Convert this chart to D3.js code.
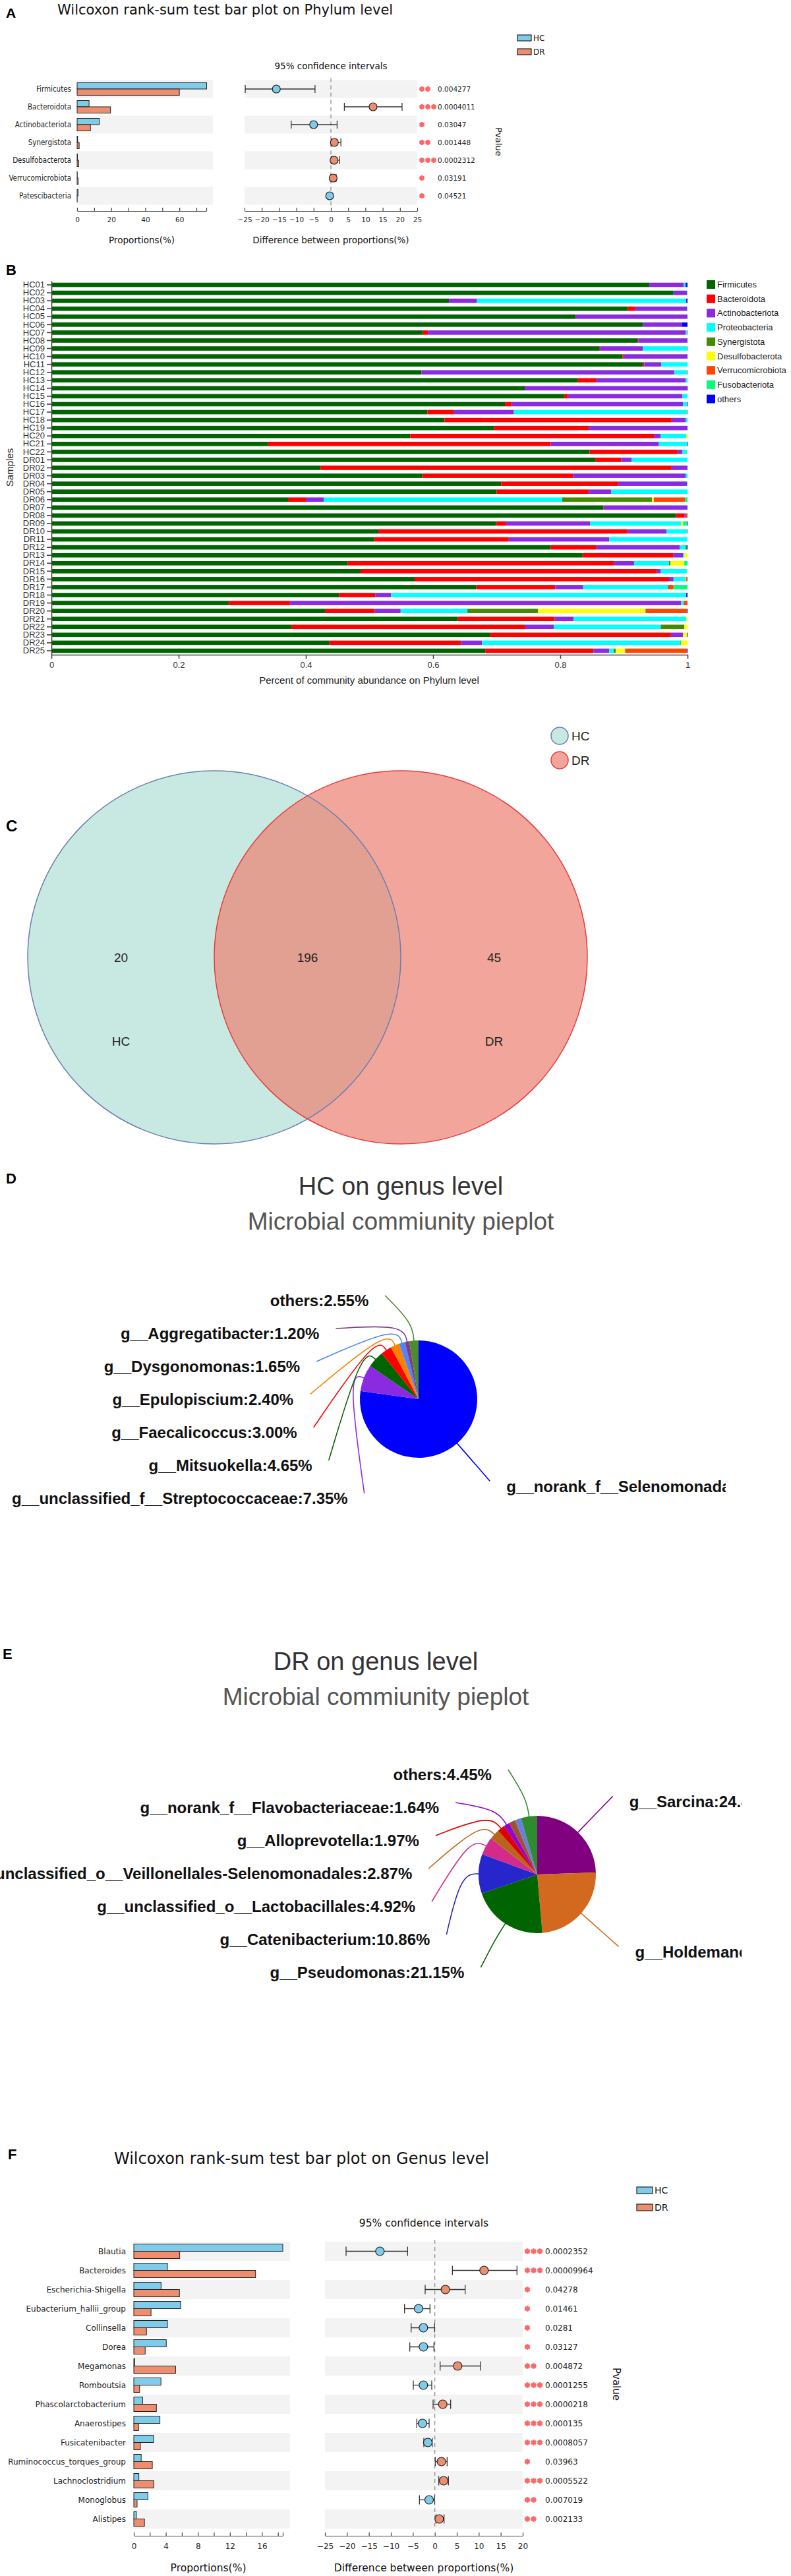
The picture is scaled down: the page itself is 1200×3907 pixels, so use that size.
<!DOCTYPE html>
<html>
<head>
<meta charset="utf-8">
<script src="https://cdn.jsdelivr.net/npm/d3@7"></script>
<style>
  body { margin: 0; background: #fff; }
  svg { display: block; }
</style>
</head>
<body>
<div id="fig"></div>
<script>
/** Colours shared by the two Wilcoxon panels */
const colorHC = "#7fcbea";
const colorDR = "#ef8d6f";

/** Panel A data: phylum level */
const phylaA = ["Firmicutes", "Bacteroidota", "Actinobacteriota", "Synergistota", "Desulfobacterota", "Verrucomicrobiota", "Patescibacteria"];
const phylaA_HC = [76.0, 7.0, 13.0, 0.3, 0.2, 0.1, 0.5];
const phylaA_DR = [60.0, 19.6, 7.8, 1.2, 0.9, 0.6, 0.05];
const phylaA_diff = [-15.8, 12.2, -5.0, 1.0, 0.9, 0.65, -0.35];
const phylaA_low = [-24.8, 3.9, -11.5, 0.2, 0.1, 0.0, -0.7];
const phylaA_high = [-4.6, 20.6, 1.8, 2.9, 2.5, 1.5, 0.0];
const phylaA_p = ["0.004277", "0.0004011", "0.03047", "0.001448", "0.0002312", "0.03191", "0.04521"];

/** Panel B data: community barplot, one array per phylum */
const samples = ["HC01", "HC02", "HC03", "HC04", "HC05", "HC06", "HC07", "HC08", "HC09", "HC10", "HC11",
  "HC12", "HC13", "HC14", "HC15", "HC16", "HC17", "HC18", "HC19", "HC20", "HC21", "HC22",
  "DR01", "DR02", "DR03", "DR04", "DR05", "DR06", "DR07", "DR08", "DR09", "DR10", "DR11", "DR12",
  "DR13", "DR14", "DR15", "DR16", "DR17", "DR18", "DR19", "DR20", "DR21", "DR22", "DR23", "DR24", "DR25"];
const phylaB = ["Firmicutes", "Bacteroidota", "Actinobacteriota", "Proteobacteria", "Synergistota",
  "Desulfobacterota", "Verrucomicrobiota", "Fusobacteriota", "others"];
const phylaB_colors = ["#006400", "#ff0000", "#8a2be2", "#00ffff", "#458b00", "#ffff00", "#ff4500", "#00ff7f", "#0000ff"];
const firmicutes = [.940, .978, .625, .906, .824, .930, .584, .922, .862, .898, .930, .582, .827, .744, .806, .713, .591, .618, .696, .564, .340, .846,
  .855, .423, .583, .707, .700, .372, .868, .982, .699, .514, .508, .785, .835, .466, .486, .571, .668, .452, .279, .430, .639, .377, .690, .437, .682];
const bacteroidota = [0, 0, 0, .012, 0, 0, .008, .001, .001, .002, .002, 0, .029, 0, .006, .011, .042, .357, .149, .384, .445, .139,
  .041, .552, .237, .184, .145, .028, 0, .013, .015, .392, .211, .071, .143, .418, .466, .400, .124, .057, .096, .078, .152, .368, .284, .207, .170];
const actinobacteriota = [.054, .021, .044, .081, .176, .061, .405, .077, .067, .100, .027, .397, .141, .255, .180, .269, .094, .022, .155, .010, .170, .007,
  .016, .025, .177, .108, .035, .028, .132, .002, .133, .061, .158, .132, .015, .032, .006, .007, .044, .025, .615, .041, .030, .045, .019, .033, .025];
const proteobacteria = [.003, .001, .329, .001, 0, 0, .002, 0, .069, 0, .041, .020, .002, 0, .008, .006, .272, .003, 0, .040, .044, .007,
  .088, 0, .003, .001, .120, .375, 0, 0, .143, .032, .123, .009, .002, .055, .041, .019, .133, .464, .004, .105, .177, .168, 0, .312, .007];
const synergistota = [0, 0, 0, 0, 0, 0, 0, 0, 0, 0, 0, 0, 0, 0, 0, 0, 0, 0, 0, 0, 0, 0,
  0, 0, 0, 0, 0, .141, 0, 0, 0, 0, 0, .002, 0, .002, 0, 0, 0, 0, 0, .111, 0, .037, 0, .001, .003];
const desulfobacterota = [0, 0, 0, 0, 0, 0, 0, 0, 0, 0, 0, 0, 0, 0, 0, 0, 0, 0, 0, .002, 0, .001,
  0, 0, 0, 0, 0, .003, 0, 0, .003, 0, 0, 0, .005, .022, .001, .001, 0, 0, 0, .169, .002, .005, .006, .010, .015];
const verrucomicrobiota = [0, 0, 0, 0, 0, 0, .001, 0, .001, 0, 0, .001, 0, 0, 0, 0, .001, 0, 0, 0, 0, 0,
  0, 0, 0, 0, 0, .049, 0, .003, 0, .001, 0, 0, 0, 0, 0, .002, .009, 0, .006, .065, 0, 0, 0, 0, .097];
const fusobacteriota = [0, 0, 0, 0, 0, 0, 0, 0, 0, 0, 0, 0, .001, 0, 0, 0, 0, 0, 0, 0, 0, 0,
  0, 0, 0, 0, 0, .004, 0, 0, .006, 0, 0, 0, 0, .005, 0, 0, .022, 0, 0, 0, 0, 0, 0, 0, 0];
const othersB = [.003, 0, .002, 0, 0, .009, 0, 0, 0, 0, 0, 0, 0, .001, 0, .001, 0, 0, 0, 0, .001, 0,
  0, 0, 0, 0, 0, 0, 0, 0, .001, 0, 0, .001, 0, 0, 0, 0, 0, .002, 0, .001, 0, 0, .001, 0, .001];
const phylaB_values = [firmicutes, bacteroidota, actinobacteriota, proteobacteria, synergistota,
  desulfobacterota, verrucomicrobiota, fusobacteriota, othersB];
const bTicks = [0, 0.2, 0.4, 0.6, 0.8, 1];

/** Panel C data: Venn */
const vennGroups = ["HC", "DR"];
const vennOnly = [20, 45];
const vennShared = 196;

/** Panel D data: HC genus pie */
const pieHC_names = ["g__norank_f__Selenomonadaceae", "g__unclassified_f__Streptococcaceae", "g__Mitsuokella",
  "g__Faecalicoccus", "g__Epulopiscium", "g__Dysgonomonas", "g__Aggregatibacter", "others"];
const pieHC_values = [77.20, 7.35, 4.65, 3.00, 2.40, 1.65, 1.20, 2.55];
const pieHC_colors = ["#0000ff", "#8a2be2", "#006400", "#ff0000", "#ff7f00", "#4f86f7", "#7d3c8c", "#4c8c2b"];

/** Panel E data: DR genus pie (two thin slices carry no label) */
const pieDR_names = ["g__Sarcina", "g__Holdemanella", "g__Pseudomonas", "g__Catenibacterium",
  "g__unclassified_o__Lactobacillales", "g__unclassified_o__Veillonellales-Selenomonadales",
  "g__Alloprevotella", "g__norank_f__Flavobacteriaceae", "", "", "others"];
const pieDR_values = [24.45, 24.15, 21.15, 10.86, 4.92, 2.87, 1.97, 1.64, 1.80, 1.74, 4.45];
const pieDR_colors = ["#800080", "#d2691e", "#006400", "#2626cc", "#d42a8a", "#b8651b", "#dd0000",
  "#9400d3", "#a0522d", "#6a7fdb", "#2e8b2e"];

/** Panel F data: genus level */
const generaF = ["Blautia", "Bacteroides", "Escherichia-Shigella", "Eubacterium_hallii_group", "Collinsella",
  "Dorea", "Megamonas", "Romboutsia", "Phascolarctobacterium", "Anaerostipes", "Fusicatenibacter",
  "Ruminococcus_torques_group", "Lachnoclostridium", "Monoglobus", "Alistipes"];
const generaF_HC = [18.6, 4.2, 3.4, 5.85, 4.2, 4.05, 0.12, 3.39, 1.1, 3.26, 2.47, 0.92, 0.63, 1.77, 0.32];
const generaF_DR = [5.73, 15.2, 5.7, 2.15, 1.58, 1.42, 5.22, 0.73, 2.82, 0.6, 0.82, 2.31, 2.5, 0.41, 1.33];
const generaF_diff = [-12.5, 11.2, 2.4, -3.7, -2.6, -2.6, 5.2, -2.6, 1.8, -2.8, -1.6, 1.5, 2.0, -1.3, 1.0];
const generaF_low = [-20.2, 4.0, -2.2, -6.9, -5.4, -5.7, 1.2, -4.9, -0.4, -4.1, -2.5, 0.1, 0.9, -3.5, 0.25];
const generaF_high = [-6.2, 18.7, 6.9, -1.1, -0.06, -0.2, 10.4, -0.7, 3.6, -1.3, -0.6, 2.8, 3.1, -0.06, 2.1];
const generaF_p = ["0.0002352", "0.00009964", "0.04278", "0.01461", "0.0281", "0.03127", "0.004872",
  "0.0001255", "0.0000218", "0.000135", "0.0008057", "0.03963", "0.0005522", "0.007019", "0.002133"];

const dv = "'DejaVu Sans', sans-serif";
const ar = "'Liberation Sans', Arial, sans-serif";

const svg = d3.select("#fig").append("svg")
  .attr("width", 1200).attr("height", 3907)
  .style("background", "#fff");

const panelLetter = (t, x, y, size) =>
  svg.append("text").attr("x", x).attr("y", y).text(t)
    .attr("font-family", ar).attr("font-weight", "bold").attr("font-size", size).attr("fill", "#000");

/** Wilcoxon bar plot with confidence intervals (A and F) */
const drawWilcoxon = (c) => {
  const g = svg.append("g");
  const n = c.names.length;
  const rowY = (i) => c.top + c.pitch * (i + 0.5);
  const bottom = c.top + c.pitch * n;
  const xb = d3.scaleLinear().domain([0, c.barMax]).range(c.barRange);
  const xc = d3.scaleLinear().domain(c.ciDomain).range(c.ciRange);

  g.append("text").attr("x", c.titleX).attr("y", c.titleY).text(c.title)
    .attr("font-family", dv).attr("font-size", c.titleSize).attr("fill", "#111");

  // grey stripes on every other row
  [c.bandL, c.bandR].forEach((band) => {
    g.selectAll(null).data(d3.range(0, n, 2)).join("rect")
      .attr("x", band[0]).attr("width", band[1] - band[0])
      .attr("y", (i) => c.top + c.pitch * i).attr("height", c.pitch)
      .attr("fill", "#f3f3f3");
  });

  g.selectAll(null).data(c.hc).join("rect")
    .attr("x", xb(0)).attr("y", (d, i) => rowY(i) - c.barH)
    .attr("width", (d) => xb(d) - xb(0)).attr("height", c.barH)
    .attr("fill", colorHC).attr("stroke", "#222").attr("stroke-width", 1);
  g.selectAll(null).data(c.dr).join("rect")
    .attr("x", xb(0)).attr("y", (d, i) => rowY(i))
    .attr("width", (d) => xb(d) - xb(0)).attr("height", c.barH)
    .attr("fill", colorDR).attr("stroke", "#222").attr("stroke-width", 1);

  g.selectAll(null).data(c.names).join("text")
    .attr("x", c.labelX).attr("y", (d, i) => rowY(i)).attr("dy", "0.35em")
    .attr("text-anchor", "end").text((d) => d)
    .attr("font-family", c.labelFont).attr("font-size", c.labelSize).attr("fill", "#222");

  // zero line
  g.append("line").attr("x1", xc(0)).attr("x2", xc(0))
    .attr("y1", c.top - 3).attr("y2", bottom + 2)
    .attr("stroke", "#888").attr("stroke-width", 1.2).attr("stroke-dasharray", "6,5");

  // confidence intervals
  const ci = g.selectAll(null).data(c.diff).join("g")
    .attr("transform", (d, i) => `translate(0,${rowY(i)})`);
  ci.append("line").attr("x1", (d, i) => xc(c.low[i])).attr("x2", (d, i) => xc(c.high[i]))
    .attr("stroke", "#333").attr("stroke-width", 1.3);
  ci.append("line").attr("x1", (d, i) => xc(c.low[i])).attr("x2", (d, i) => xc(c.low[i]))
    .attr("y1", -c.capH).attr("y2", c.capH).attr("stroke", "#333").attr("stroke-width", 1.3);
  ci.append("line").attr("x1", (d, i) => xc(c.high[i])).attr("x2", (d, i) => xc(c.high[i]))
    .attr("y1", -c.capH).attr("y2", c.capH).attr("stroke", "#333").attr("stroke-width", 1.3);
  ci.append("circle").attr("cx", (d) => xc(d)).attr("r", c.dotR)
    .attr("fill", (d) => (d < 0 ? colorHC : colorDR)).attr("stroke", "#222").attr("stroke-width", 1.2);

  // stars and p-values
  const starCount = (p) => (+p < 0.001 ? 3 : +p < 0.01 ? 2 : 1);
  const star = d3.symbol().type(d3.symbolAsterisk).size(c.starSize);
  c.pvals.forEach((p, i) => {
    d3.range(starCount(p)).forEach((k) => {
      g.append("path").attr("d", star)
        .attr("transform", `translate(${c.starX + k * c.starStep},${rowY(i)})`)
        .attr("fill", "none").attr("stroke", "#ff6666").attr("stroke-width", 3);
    });
  });
  g.selectAll(null).data(c.pvals).join("text")
    .attr("x", c.pX).attr("y", (d, i) => rowY(i)).attr("dy", "0.35em").text((d) => d)
    .attr("font-family", dv).attr("font-size", c.pSize).attr("fill", "#222");

  // axes
  const axL = d3.axisBottom(xb).tickValues(c.barTicks)
    .tickFormat((d) => (c.barLabels.includes(d) ? d : ""))
    .tickSizeInner(-5).tickSizeOuter(0).tickPadding(c.tickPad);
  const axR = d3.axisBottom(xc).tickValues(c.ciTicks)
    .tickSizeInner(-5).tickSizeOuter(0).tickPadding(c.tickPad);
  [axL, axR].forEach((ax) => {
    const a = g.append("g").attr("transform", `translate(0,${c.axisY})`).call(ax);
    a.selectAll("path,line").attr("stroke", "#444").attr("stroke-width", 1.2);
    a.selectAll("text").attr("font-family", dv).attr("font-size", c.tickSize).attr("fill", "#222");
  });
  g.append("text").attr("x", (c.barRange[0] + c.barRange[1]) / 2).attr("y", c.axisTitleY)
    .attr("text-anchor", "middle").text("Proportions(%)")
    .attr("font-family", dv).attr("font-size", c.axisTitleSize).attr("fill", "#111");
  g.append("text").attr("x", (c.ciRange[0] + c.ciRange[1]) / 2).attr("y", c.axisTitleY)
    .attr("text-anchor", "middle").text("Difference between proportions(%)")
    .attr("font-family", dv).attr("font-size", c.axisTitleSize).attr("fill", "#111");
  g.append("text").attr("x", (c.ciRange[0] + c.ciRange[1]) / 2).attr("y", c.ciTitleY)
    .attr("text-anchor", "middle").text("95% confidence intervals")
    .attr("font-family", dv).attr("font-size", c.axisTitleSize).attr("fill", "#111");
  g.append("text").attr("transform", `translate(${c.pvalX},${c.pvalY}) rotate(90)`)
    .attr("text-anchor", "middle").text("Pvalue")
    .attr("font-family", dv).attr("font-size", c.axisTitleSize - 0.5).attr("fill", "#111");

  // legend
  ["HC", "DR"].forEach((grp, k) => {
    g.append("rect").attr("x", c.legX).attr("y", c.legY[k]).attr("width", c.legW).attr("height", c.legH)
      .attr("fill", grp === "HC" ? colorHC : colorDR).attr("stroke", "#222").attr("stroke-width", 1.2);
    g.append("text").attr("x", c.legX + c.legW + 3).attr("y", c.legY[k] + c.legH / 2).attr("dy", "0.35em")
      .text(grp).attr("font-family", dv).attr("font-size", c.legSize).attr("fill", "#111");
  });
};

/* ---------------- A ---------------- */
panelLetter("A", 9, 27, 21);
drawWilcoxon({
  names: phylaA, hc: phylaA_HC, dr: phylaA_DR, diff: phylaA_diff, low: phylaA_low, high: phylaA_high, pvals: phylaA_p,
  title: "Wilcoxon rank-sum test bar plot on Phylum level", titleX: 87, titleY: 22, titleSize: 21,
  top: 121.5, pitch: 27, barH: 9.5,
  barMax: 75.8, barRange: [117, 313], barTicks: [0, 10, 20, 30, 40, 50, 60, 70, 75.8], barLabels: [0, 20, 40, 60],
  ciDomain: [-25, 25], ciRange: [371, 633], ciTicks: [-25, -20, -15, -10, -5, 0, 5, 10, 15, 20, 25],
  bandL: [117, 323], bandR: [371, 633],
  labelX: 108, labelSize: 11.5, labelFont: "'DejaVu Sans Condensed', 'DejaVu Sans', sans-serif",
  capH: 6, dotR: 6, starX: 640, starStep: 9, starSize: 46, pX: 664, pSize: 10.5,
  axisY: 320, tickPad: 10, tickSize: 10.5, axisTitleY: 369, axisTitleSize: 13.5, ciTitleY: 105,
  pvalX: 752, pvalY: 215,
  legX: 785, legY: [53, 74], legW: 21, legH: 9, legSize: 12
});

/* ---------------- B ---------------- */
panelLetter("B", 9, 417, 22);
const gB = svg.append("g");
const rowsB = samples.map((s, i) => {
  const row = { sample: s };
  phylaB.forEach((p, k) => (row[p] = phylaB_values[k][i]));
  return row;
});
const stackB = d3.stack().keys(phylaB)(rowsB);
const xB = d3.scaleLinear().domain([0, 1]).range([78, 1043]);
const yB = d3.scaleBand().domain(samples).range([426, 993]).paddingInner(0.45).paddingOuter(0.225);
const colorB = d3.scaleOrdinal().domain(phylaB).range(phylaB_colors);

gB.selectAll("g.layer").data(stackB).join("g").attr("class", "layer")
  .attr("fill", (d) => colorB(d.key))
  .selectAll("rect").data((d) => d).join("rect")
  .attr("x", (d) => xB(d[0])).attr("width", (d) => Math.max(0, xB(d[1]) - xB(d[0])))
  .attr("y", (d) => yB(d.data.sample)).attr("height", yB.bandwidth());

const axBy = gB.append("g").attr("transform", "translate(78,0)")
  .call(d3.axisLeft(yB).tickSize(7).tickSizeOuter(0).tickPadding(3));
const axBx = gB.append("g").attr("transform", "translate(0,993)")
  .call(d3.axisBottom(xB).tickValues(bTicks).tickFormat(d3.format("~g")).tickSize(6).tickSizeOuter(0).tickPadding(5));
[axBy, axBx].forEach((a) => {
  a.selectAll("path,line").attr("stroke", "#444").attr("stroke-width", 1.6);
  a.selectAll("text").attr("font-family", ar).attr("font-size", 13).attr("fill", "#333");
});
gB.append("text").attr("x", 560).attr("y", 1037).attr("text-anchor", "middle")
  .text("Percent of community abundance on Phylum level")
  .attr("font-family", ar).attr("font-size", 15).attr("fill", "#222");
gB.append("text").attr("transform", "translate(20,709) rotate(-90)").attr("text-anchor", "middle")
  .text("Samples").attr("font-family", ar).attr("font-size", 15).attr("fill", "#222");

const legB = gB.selectAll("g.leg").data(phylaB).join("g").attr("class", "leg")
  .attr("transform", (d, i) => `translate(1072,${425 + i * 21.7})`);
legB.append("rect").attr("width", 13).attr("height", 13).attr("fill", (d) => colorB(d));
legB.append("text").attr("x", 16).attr("y", 6.5).attr("dy", "0.35em").text((d) => d)
  .attr("font-family", ar).attr("font-size", 13).attr("fill", "#222");

/* ---------------- C ---------------- */
panelLetter("C", 9, 1261, 24);
const gC = svg.append("g");
const vennR = 283;
const vennCx = [325, 608];
const vennCy = 1452;
const vennFill = ["#c8e9e1", "rgba(237,130,114,0.71)"];
const vennStroke = ["#6b7db3", "#e63a3f"];
gC.selectAll("circle.fill").data(vennGroups).join("circle").attr("class", "fill")
  .attr("cx", (d, i) => vennCx[i]).attr("cy", vennCy).attr("r", vennR)
  .attr("fill", (d, i) => vennFill[i]);
gC.selectAll("circle.edge").data(vennGroups).join("circle").attr("class", "edge")
  .attr("cx", (d, i) => vennCx[i]).attr("cy", vennCy).attr("r", vennR)
  .attr("fill", "none").attr("stroke", (d, i) => vennStroke[i]).attr("stroke-width", 1.5);
const vennText = [
  { t: vennOnly[0], x: (vennCx[0] - vennR + vennCx[1] - vennR) / 2, y: vennCy },
  { t: vennShared, x: (vennCx[1] - vennR + vennCx[0] + vennR) / 2, y: vennCy },
  { t: vennOnly[1], x: (vennCx[0] + vennR + vennCx[1] + vennR) / 2, y: vennCy },
  { t: vennGroups[0], x: (vennCx[0] - vennR + vennCx[1] - vennR) / 2, y: vennCy + 127 },
  { t: vennGroups[1], x: (vennCx[0] + vennR + vennCx[1] + vennR) / 2, y: vennCy + 127 }
];
gC.selectAll("text").data(vennText).join("text")
  .attr("x", (d) => d.x).attr("y", (d) => d.y).attr("dy", "0.35em").attr("text-anchor", "middle")
  .text((d) => d.t).attr("font-family", ar).attr("font-size", 19).attr("fill", "#222");
vennGroups.forEach((grp, i) => {
  gC.append("circle").attr("cx", 849).attr("cy", 1116 + i * 37).attr("r", 13)
    .attr("fill", vennFill[i]).attr("stroke", vennStroke[i]).attr("stroke-width", 1.5);
  gC.append("text").attr("x", 867).attr("y", 1116 + i * 37).attr("dy", "0.35em").text(grp)
    .attr("font-family", ar).attr("font-size", 19).attr("fill", "#222");
});

/* ---------------- D & E pies ---------------- */
const drawPie = (c) => {
  const g = svg.append("g");
  g.append("text").attr("x", c.titleX).attr("y", c.titleY).attr("text-anchor", "middle")
    .text(c.title).attr("font-family", ar).attr("font-size", 38).attr("fill", "#333");
  g.append("text").attr("x", c.titleX).attr("y", c.titleY + 53).attr("text-anchor", "middle")
    .text("Microbial commiunity pieplot").attr("font-family", ar).attr("font-size", 37).attr("fill", "#555");

  const data = c.names.map((name, i) => ({ name, value: c.values[i], color: c.colors[i] }));
  const arcs = d3.pie().sort(null).value((d) => d.value)(data);
  const arc = d3.arc().innerRadius(0).outerRadius(c.r);
  g.append("g").attr("transform", `translate(${c.cx},${c.cy})`)
    .selectAll("path").data(arcs).join("path").attr("d", arc).attr("fill", (d) => d.data.color);

  const polar = (rad, a) => [c.cx + rad * Math.sin(a), c.cy - rad * Math.cos(a)];
  const R = c.labelR;
  const labeled = arcs.filter((d) => d.data.name);
  labeled.forEach((d) => (d.mid = (d.startAngle + d.endAngle) / 2));
  const left = labeled.filter((d) => d.mid > Math.PI).sort((a, b) => b.mid - a.mid);
  const right = labeled.filter((d) => d.mid <= Math.PI);
  left.forEach((d, k) => {
    const dy = c.leftDy0 + c.leftStep * k;
    d.anchor = [c.cx - Math.sqrt(R * R - dy * dy), c.cy + dy];
    d.side = -1;
  });
  right.forEach((d) => {
    d.anchor = polar(R, d.mid);
    d.side = 1;
  });
  const line = d3.line().curve(d3.curveBasis);
  g.selectAll("path.leader").data(labeled).join("path").attr("class", "leader")
    .attr("d", (d) => line([polar(c.r * 0.98, d.mid), polar(c.r * 1.3, d.mid), d.anchor]))
    .attr("fill", "none").attr("stroke", (d) => d.data.color).attr("stroke-width", 1.6);

  // the source image was cropped on the right, so the right-hand labels are cut
  const clipId = "clip" + c.id;
  g.append("clipPath").attr("id", clipId).append("rect")
    .attr("x", 0).attr("y", c.cy - 400).attr("width", c.clipX).attr("height", 800);
  g.append("g").attr("clip-path", `url(#${clipId})`)
    .selectAll("text").data(labeled).join("text")
    .attr("x", (d) => d.anchor[0] + d.side * 25).attr("y", (d) => d.anchor[1] + 8).attr("dy", "0.35em")
    .attr("text-anchor", (d) => (d.side < 0 ? "end" : "start"))
    .text((d) => `${d.data.name}:${d.data.value.toFixed(2)}%`)
    .attr("font-family", ar).attr("font-weight", "bold").attr("font-size", 24).attr("fill", "#111");
};

panelLetter("D", 9, 1795, 22);
drawPie({
  id: "D", title: "HC on genus level", titleX: 608, titleY: 1812,
  names: pieHC_names, values: pieHC_values, colors: pieHC_colors,
  cx: 635, cy: 2122, r: 89, labelR: 165, leftDy0: -157, leftStep: 50, clipX: 1101
});

panelLetter("E", 4, 2516, 22);
drawPie({
  id: "E", title: "DR on genus level", titleX: 570, titleY: 2533,
  names: pieDR_names, values: pieDR_values, colors: pieDR_colors,
  cx: 815, cy: 2843, r: 89, labelR: 165, leftDy0: -159, leftStep: 50, clipX: 1125
});

/* ---------------- F ---------------- */
panelLetter("F", 12, 3275, 22);
drawWilcoxon({
  names: generaF, hc: generaF_HC, dr: generaF_DR, diff: generaF_diff, low: generaF_low, high: generaF_high, pvals: generaF_p,
  title: "Wilcoxon rank-sum test bar plot on Genus level", titleX: 173, titleY: 3282, titleSize: 24,
  top: 3400, pitch: 29, barH: 11,
  barMax: 18.6, barRange: [203, 429], barTicks: [0, 2, 4, 6, 8, 10, 12, 14, 16, 18, 18.6], barLabels: [0, 4, 8, 12, 16],
  ciDomain: [-25, 20], ciRange: [493, 793], ciTicks: [-25, -20, -15, -10, -5, 0, 5, 10, 15, 20],
  bandL: [203, 440], bandR: [493, 793],
  labelX: 191, labelSize: 12, labelFont: dv,
  capH: 7, dotR: 6.5, starX: 800, starStep: 9.5, starSize: 50, pX: 827, pSize: 12,
  axisY: 3846, tickPad: 11, tickSize: 12, axisTitleY: 3900, axisTitleSize: 15.5, ciTitleY: 3377,
  pvalX: 930, pvalY: 3616,
  legX: 966, legY: [3317, 3343], legW: 24, legH: 10, legSize: 14
});
</script>
</body>
</html>
